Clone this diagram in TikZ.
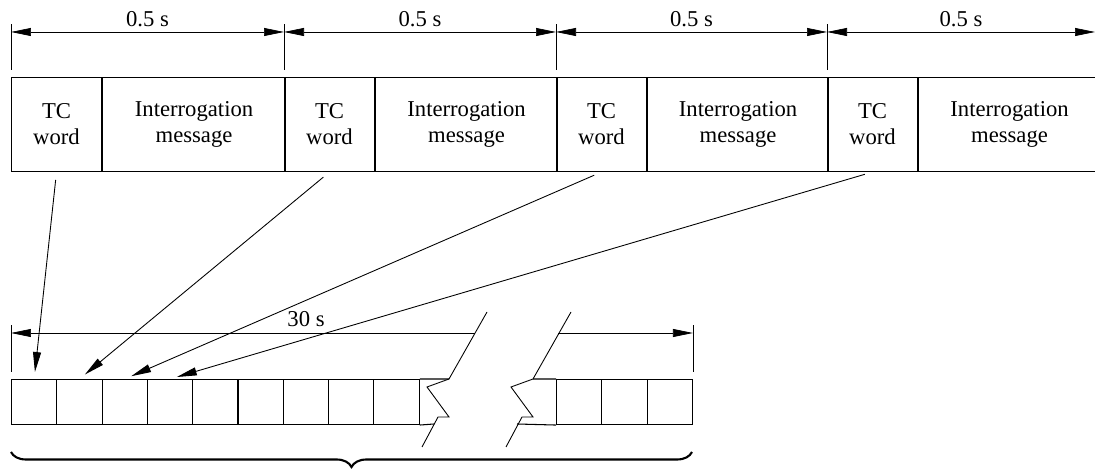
\documentclass[tikz,border=0pt]{standalone}
\usepackage{fontspec}
\setmainfont{Liberation Serif}
\usetikzlibrary{arrows.meta,decorations.pathreplacing}

\begin{document}
\begin{tikzpicture}[x=0.02cm, y=-0.02cm,
    font=\fontsize{12.9}{14.8}\selectfont,
    field/.style={draw, line width=0.6pt, inner sep=0pt, minimum height=1.88cm, anchor=north west, align=center},
    slot/.style={draw, line width=0.6pt, inner sep=0pt, minimum width=0.906cm, minimum height=0.9cm, anchor=north west},
    tip/.tip={Triangle[length=4mm, width=1.6mm]},
    dimline/.style={line width=0.4pt},
    feed/.style={line width=0.5pt, -tip, shorten <=0.16cm, shorten >=0.14cm},
    brk/.style={line width=0.5pt}]
    \useasboundingbox (0,0) rectangle (1095,472);

    \foreach \n/\x/\w in {1/11/3.66cm, 2/284/3.64cm, 3/556/3.62cm, 4/827/3.64cm} {
        \node[field, minimum width=1.8cm] (tc\n) at (\x,77) {TC\\word};
        \node[field, minimum width=\w] (im\n) at (tc\n.north east) {Interrogation\\message};
        \draw[dimline] (tc\n.north west) ++(0,-7) -- ++(0,-46);
        \path (tc\n.north west) ++(0,-45) coordinate (d\n);
    }
    \coordinate (d5) at (1095,32);
    \foreach \n [evaluate=\n as \m using int(\n+1)] in {1,...,4}
        \draw[dimline, tip-tip] (d\n) -- node[above, inner sep=3pt] {0.5 s} (d\m);

    \foreach \i in {1,...,9}
        \node[slot] (c\i) at ({11+(\i-1)*45.3},379) {};
    \foreach \i/\x in {1/556, 2/601.3, 3/646.6}
        \node[slot] (r\i) at (\x,379) {};

    \draw[line width=0.6pt] (c9.north east) -- (449,379) (c9.south east) -- (434,424);
    \draw[line width=0.6pt] (533,379) -- (r1.north west) (517,424) -- (r1.south west);
    \foreach \dx in {0,84}
        \draw[brk] ({487+\dx},312) -- ({449+\dx},379) -- ({427+\dx},387) -- ({449+\dx},417) -- ({438+\dx},417) -- ({422+\dx},447);

    \draw[dimline] (c1.north west) ++(0,-7) -- ++(0,-47);
    \draw[dimline] (r3.north east) ++(0,-7) -- ++(0,-47);
    \path (c1.north west) ++(0,-46) coordinate (e1);
    \path (r3.north east) ++(0,-46) coordinate (e2);
    \coordinate (g1) at (475,333);
    \coordinate (g2) at (558,333);
    \draw[dimline, tip-] (e1) -- (g1);
    \draw[dimline, -tip] (g2) -- (e2);
    \node (span) at (306,319) {30 s};

    \foreach \i in {1,...,4}
        \draw[feed] (tc\i.south) -- (c\i.north);

    \draw[decorate, decoration={brace, mirror, amplitude=0.3cm}, line width=1.2pt] (11,452) -- (692,452);
\end{tikzpicture}
\end{document}
